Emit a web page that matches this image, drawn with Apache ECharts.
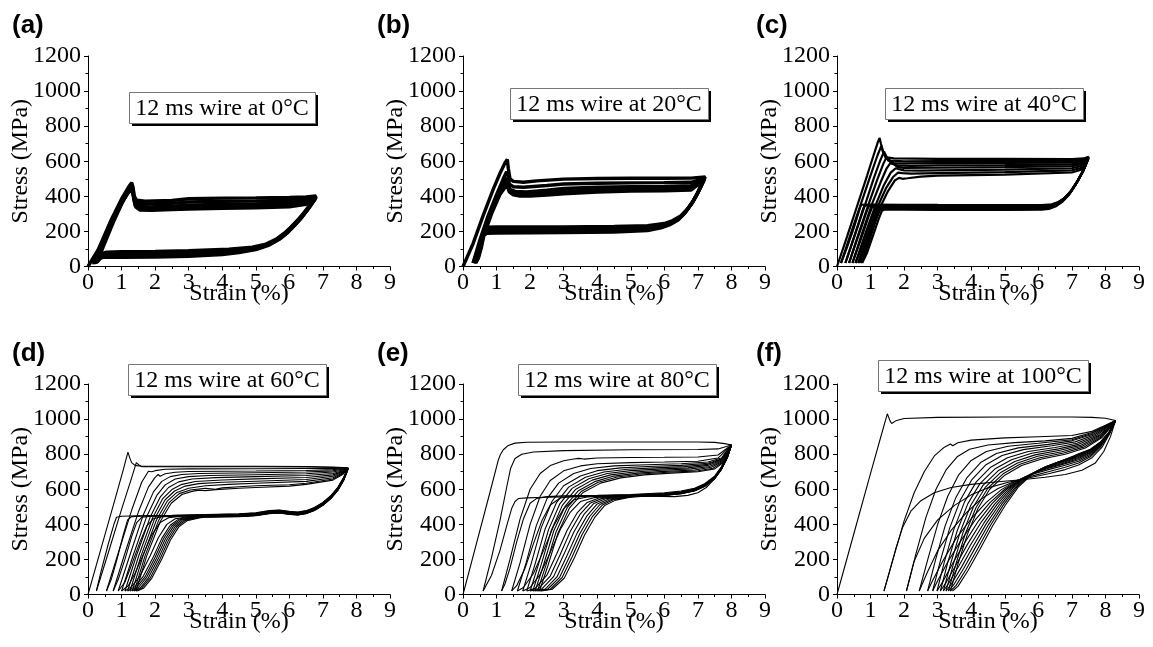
<!DOCTYPE html>
<html>
<head>
<meta charset="utf-8">
<title>12 ms wire - cyclic tension</title>
<script src="https://cdn.jsdelivr.net/npm/echarts@6/dist/echarts.min.js"></script>
<style>
html, body { margin: 0; padding: 0; background: #fff; }
#main { width: 1153px; height: 647px; }
</style>
</head>
<body>
<div id="main"></div>
<script>
// panel letters and test temperatures
var panelTags = ['(a)', '(b)', '(c)', '(d)', '(e)', '(f)'];
var temps = ['0°C', '20°C', '40°C', '60°C', '80°C', '100°C'];

// axis ranges (strain %, stress MPa)
var strainMin = 0, strainMax = 9, strainStep = 1;
var stressMin = 0, stressMax = 1200, stressStep = 200;

// each loop = one load/unload cycle, [strain, stress]
var loops0 = [
  [[0,0],[0.3,95],[0.7,270],[1.0,385],[1.2,450],[1.3,478],[1.34,455],[1.38,400],[1.45,378],[1.7,372],[2.5,376],[3,386],[4,390],[5,391],[6,393],[6.5,396],[6.8,402],[6.65,360],[6.45,310],[6.25,265],[6.05,225],[5.85,190],[5.6,155],[5.3,128],[4.9,110],[4.2,98],[3,90],[2,86],[1,84],[0.55,82],[0.42,75],[0.32,40],[0.25,22]],
  [[0.25,22],[0.45,110],[0.75,250],[1.0,355],[1.2,430],[1.3,465],[1.34,440],[1.38,385],[1.45,362],[1.7,356],[2.5,360],[3,368],[4,372],[5,373],[6,376],[6.5,384],[6.8,398],[6.62,350],[6.42,300],[6.22,255],[6.02,215],[5.82,180],[5.55,146],[5.25,120],[4.8,102],[4.1,90],[3,80],[2,76],[1,74],[0.55,73],[0.42,66],[0.3,35],[0.2,20]],
  [[0.2,20],[0.42,115],[0.7,245],[1.0,360],[1.2,425],[1.3,458],[1.34,425],[1.39,365],[1.5,345],[1.8,340],[2.5,344],[3,350],[4,355],[5,357],[6,362],[6.5,372],[6.8,394],[6.6,340],[6.4,290],[6.2,247],[6.0,208],[5.8,172],[5.5,138],[5.2,112],[4.7,94],[4,82],[3,72],[2,68],[1,66],[0.55,66],[0.42,60],[0.3,32],[0.18,20]],
  [[0.18,20],[0.4,115],[0.7,250],[1.0,362],[1.2,420],[1.3,448],[1.35,410],[1.4,350],[1.5,332],[1.8,328],[2.5,332],[3,338],[4,342],[5,345],[6,350],[6.5,362],[6.78,390],[6.58,332],[6.38,282],[6.18,240],[5.98,200],[5.75,162],[5.45,130],[5.1,104],[4.6,86],[4,74],[3,64],[2,60],[1,58],[0.5,58],[0.38,52],[0.28,30],[0.15,20]],
  [[0.15,20],[0.38,118],[0.68,255],[1.0,372],[1.2,425],[1.3,440],[1.35,400],[1.42,340],[1.55,322],[1.9,320],[2.5,324],[3,328],[4,332],[5,335],[6,340],[6.5,354],[6.78,386],[6.55,325],[6.35,275],[6.15,232],[5.95,193],[5.7,155],[5.4,122],[5.0,96],[4.5,80],[4,68],[3,58],[2,54],[1,52],[0.45,52],[0.35,46],[0.25,28],[0.12,20]]
];

var loops20 = [
  [[0,0],[0.3,130],[0.6,290],[0.9,440],[1.1,530],[1.25,590],[1.32,610],[1.35,560],[1.4,500],[1.5,485],[1.8,480],[2.2,488],[3,498],[4,502],[5,503],[6,503],[6.8,504],[7.22,510],[7.08,450],[6.9,385],[6.7,330],[6.5,290],[6.25,262],[6.0,245],[5.5,232],[4.5,228],[3,226],[2,226],[1,226],[0.7,224],[0.62,210],[0.5,130],[0.38,60],[0.3,20]],
  [[0.3,20],[0.5,150],[0.75,290],[1.0,410],[1.2,500],[1.3,540],[1.34,520],[1.38,470],[1.5,455],[1.8,452],[2.5,462],[3,470],[4,475],[5,477],[6,478],[6.8,480],[7.2,502],[7.05,440],[6.87,375],[6.67,322],[6.47,282],[6.22,255],[5.97,238],[5.5,224],[4.5,218],[3,216],[2,215],[1,214],[0.7,212],[0.62,198],[0.52,130],[0.42,60],[0.33,20]],
  [[0.33,20],[0.52,140],[0.78,290],[1.0,395],[1.2,475],[1.3,505],[1.35,470],[1.4,440],[1.55,428],[1.9,425],[2.5,435],[3,445],[4,452],[5,455],[6,457],[6.8,460],[7.18,496],[7.02,430],[6.85,368],[6.65,315],[6.45,276],[6.2,249],[5.95,232],[5.5,217],[4.5,210],[3,207],[2,206],[1,205],[0.7,203],[0.62,190],[0.53,120],[0.44,55],[0.35,20]],
  [[0.35,20],[0.55,150],[0.8,290],[1.05,400],[1.22,460],[1.3,478],[1.36,445],[1.45,420],[1.6,412],[2,412],[2.5,420],[3,428],[4,436],[5,440],[6,442],[6.8,446],[7.18,492],[7.0,420],[6.82,360],[6.62,308],[6.42,270],[6.18,243],[5.92,226],[5.5,211],[4.5,202],[3,199],[2,198],[1,197],[0.7,195],[0.62,182],[0.54,115],[0.45,50],[0.37,20]],
  [[0.37,20],[0.58,155],[0.85,300],[1.1,410],[1.25,450],[1.32,458],[1.38,425],[1.5,408],[1.7,402],[2,402],[2.5,408],[3,415],[4,425],[5,430],[6,432],[6.8,436],[7.15,488],[6.98,415],[6.8,355],[6.6,302],[6.4,264],[6.15,237],[5.9,220],[5.5,205],[4.5,196],[3,193],[2,192],[1,191],[0.7,189],[0.62,176],[0.55,110],[0.46,48],[0.38,20]]
];

var loops40 = [
  [[0,0],[0.3,170],[0.6,345],[0.9,520],[1.1,640],[1.22,710],[1.27,733],[1.31,700],[1.38,650],[1.48,622],[1.7,616],[3,614],[5,613],[7,612],[7.35,616],[7.5,626],[7.38,565],[7.2,495],[7.0,435],[6.8,393],[6.6,368],[6.4,355],[6.1,350],[5,350],[3,351],[2,352],[1,353],[0.72,352],[0.66,320],[0.5,220],[0.3,110],[0.12,20]],
  [[0.12,20],[0.4,180],[0.7,350],[1.0,520],[1.2,630],[1.32,688],[1.36,660],[1.45,620],[1.6,603],[2,600],[3,601],[5,601],[7,602],[7.35,608],[7.5,622],[7.37,560],[7.18,490],[6.98,430],[6.78,390],[6.58,364],[6.38,350],[6.1,346],[5,346],[3,347],[2,348],[1,348],[0.82,347],[0.76,318],[0.6,220],[0.4,105],[0.25,20]],
  [[0.25,20],[0.55,190],[0.85,360],[1.1,505],[1.28,600],[1.4,655],[1.44,640],[1.52,605],[1.7,590],[2,588],[3,589],[5,590],[7,592],[7.35,600],[7.5,618],[7.36,555],[7.16,486],[6.96,427],[6.76,386],[6.56,360],[6.36,346],[6.1,342],[5,342],[3,343],[2,344],[1,344],[0.94,343],[0.88,312],[0.7,210],[0.5,100],[0.36,20]],
  [[0.36,20],[0.65,190],[0.95,360],[1.2,495],[1.38,585],[1.48,625],[1.53,612],[1.62,588],[1.8,576],[2.2,574],[3,576],[5,578],[7,582],[7.35,592],[7.49,615],[7.35,550],[7.15,482],[6.95,424],[6.75,383],[6.55,357],[6.35,343],[6.1,339],[5,338],[3,339],[2,340],[1.1,340],[1.04,335],[0.95,290],[0.78,195],[0.6,95],[0.46,20]],
  [[0.46,20],[0.75,190],[1.05,360],[1.3,480],[1.48,560],[1.6,592],[1.68,585],[1.8,568],[2,562],[3,563],[5,566],[7,572],[7.35,585],[7.48,612],[7.34,546],[7.14,478],[6.94,420],[6.74,380],[6.54,354],[6.34,340],[6.1,336],[5,334],[3,335],[2,336],[1.2,336],[1.14,330],[1.05,285],[0.88,190],[0.7,90],[0.55,20]],
  [[0.55,20],[0.85,190],[1.15,350],[1.4,465],[1.6,535],[1.75,560],[1.85,555],[2,548],[2.5,546],[3,548],[5,552],[7,560],[7.35,576],[7.47,608],[7.33,542],[7.13,474],[6.93,416],[6.73,376],[6.53,350],[6.33,336],[6.1,332],[5,330],[3,331],[2,332],[1.28,332],[1.22,326],[1.12,280],[0.95,185],[0.78,85],[0.63,20]],
  [[0.63,20],[0.93,190],[1.22,345],[1.47,450],[1.67,510],[1.82,535],[1.95,532],[2.2,530],[3,532],[5,538],[7,548],[7.35,566],[7.46,604],[7.32,538],[7.12,470],[6.92,412],[6.72,372],[6.52,346],[6.32,332],[6.1,328],[5,326],[3,327],[2,328],[1.34,328],[1.28,322],[1.18,275],[1.02,182],[0.85,82],[0.7,20]],
  [[0.7,20],[1.0,190],[1.28,335],[1.52,430],[1.72,490],[1.85,505],[1.95,500],[2.1,503],[2.5,512],[3,518],[5,524],[7,536],[7.35,556],[7.45,600],[7.31,534],[7.11,466],[6.91,408],[6.71,368],[6.51,342],[6.31,328],[6.1,324],[5,322],[3,323],[2,324],[1.4,324],[1.34,318],[1.24,270],[1.08,180],[0.9,80],[0.75,20]]
];

var loops60 = [
  [[0,0],[0.4,270],[0.8,540],[1.05,710],[1.19,812],[1.24,782],[1.3,752],[1.4,736],[1.6,731],[3,731],[5,731],[6.5,730],[7.3,727],[7.6,724],[7.75,722],[7.62,668],[7.45,612],[7.25,566],[7.0,525],[6.75,496],[6.5,478],[6.25,470],[6.0,474],[5.7,482],[5.4,478],[5.0,466],[4.5,460],[3.5,456],[2.5,452],[1.5,449],[1.0,446],[0.85,440],[0.78,405],[0.6,285],[0.4,140],[0.25,20]],
  [[0.25,20],[0.6,235],[1.0,485],[1.3,665],[1.44,752],[1.47,757],[1.52,738],[1.6,729],[1.8,728],[3,728],[5,728],[6.5,727],[7.3,724],[7.6,722],[7.75,721],[7.62,666],[7.45,610],[7.25,564],[7.0,523],[6.75,494],[6.5,476],[6.25,468],[6.0,472],[5.7,480],[5.4,476],[5.0,464],[4.5,458],[3.5,454],[2.5,450],[1.6,447],[1.3,444],[1.18,425],[1.05,340],[0.85,190],[0.7,90],[0.55,20]],
  [[0.55,20],[0.9,235],[1.3,480],[1.6,640],[1.8,703],[1.85,712],[1.9,700],[2.0,706],[2.3,714],[3,716],[5,717],[6.5,718],[7.3,719],[7.6,720],[7.75,721],[7.62,664],[7.45,608],[7.25,562],[7.0,521],[6.75,492],[6.5,474],[6.25,466],[6.0,470],[5.7,478],[5.4,474],[5.0,462],[4.5,456],[3.5,452],[2.5,448],[1.9,446],[1.6,440],[1.45,410],[1.3,330],[1.1,200],[0.9,85],[0.75,20]],
  [[0.75,20],[1.1,235],[1.5,470],[1.8,612],[2.0,668],[2.09,684],[2.15,674],[2.3,688],[2.6,697],[3,701],[5,704],[6.5,707],[7.3,712],[7.6,717],[7.75,720],[7.62,662],[7.45,606],[7.25,560],[7.0,519],[6.75,490],[6.5,472],[6.25,464],[6.0,468],[5.7,476],[5.4,472],[5.0,460],[4.5,454],[3.5,450],[2.7,447],[2.2,444],[1.95,432],[1.75,390],[1.55,300],[1.3,170],[1.1,70],[0.9,20]],
  [[0.9,20],[1.25,225],[1.65,455],[1.95,585],[2.2,645],[2.45,672],[2.8,684],[3.3,690],[5,694],[6.5,698],[7.3,705],[7.6,714],[7.75,720],[7.62,660],[7.45,604],[7.25,558],[7.0,517],[6.75,488],[6.5,470],[6.25,462],[6.0,466],[5.7,474],[5.4,470],[5.0,458],[4.5,452],[3.5,449],[2.8,446],[2.4,438],[2.15,410],[1.9,340],[1.65,230],[1.4,120],[1.2,50],[1.0,20]],
  [[1.0,20],[1.35,225],[1.75,445],[2.05,565],[2.3,625],[2.6,658],[3,672],[3.6,678],[5,683],[6.5,688],[7.3,698],[7.6,710],[7.75,719],[7.62,658],[7.45,602],[7.25,556],[7.0,515],[6.75,486],[6.5,468],[6.25,460],[6.0,464],[5.7,472],[5.4,468],[5.0,456],[4.5,450],[3.5,447],[3.0,444],[2.6,432],[2.35,400],[2.1,325],[1.85,220],[1.55,105],[1.3,45],[1.1,20]],
  [[1.1,20],[1.45,225],[1.85,440],[2.15,555],[2.4,610],[2.7,642],[3.1,658],[3.8,666],[5,672],[6.5,678],[7.3,690],[7.6,706],[7.75,718],[7.62,656],[7.45,600],[7.25,554],[7.0,513],[6.75,484],[6.5,466],[6.25,458],[6.0,462],[5.7,470],[5.4,466],[5.0,454],[4.5,449],[3.5,446],[3.1,443],[2.7,430],[2.45,395],[2.2,320],[1.95,215],[1.65,105],[1.4,45],[1.18,20]],
  [[1.18,20],[1.52,225],[1.92,435],[2.22,545],[2.5,598],[2.8,628],[3.2,644],[4,653],[5,659],[6.5,667],[7.3,682],[7.6,702],[7.75,718],[7.62,655],[7.45,599],[7.25,553],[7.0,512],[6.75,483],[6.5,465],[6.25,457],[6.0,461],[5.7,469],[5.4,465],[5.0,453],[4.5,448],[3.5,445],[3.15,442],[2.75,428],[2.5,392],[2.25,318],[2.0,212],[1.7,100],[1.45,42],[1.25,20]],
  [[1.25,20],[1.58,220],[1.98,430],[2.3,540],[2.58,590],[2.9,618],[3.3,632],[4,640],[5,646],[6.5,656],[7.3,674],[7.6,698],[7.75,717],[7.62,654],[7.45,598],[7.25,552],[7.0,511],[6.75,482],[6.5,464],[6.25,456],[6.0,460],[5.7,468],[5.4,464],[5.0,452],[4.5,447],[3.5,444],[3.2,441],[2.8,426],[2.55,390],[2.3,315],[2.05,210],[1.75,98],[1.5,40],[1.32,20]],
  [[1.32,20],[1.64,220],[2.04,425],[2.36,532],[2.65,582],[3.0,606],[3.5,620],[4.2,628],[5,634],[6.5,645],[7.3,666],[7.6,694],[7.75,716],[7.62,653],[7.45,597],[7.25,551],[7.0,510],[6.75,481],[6.5,463],[6.25,455],[6.0,459],[5.7,467],[5.4,463],[5.0,451],[4.5,446],[3.5,443],[3.25,440],[2.85,424],[2.6,388],[2.35,312],[2.1,206],[1.8,95],[1.56,38],[1.38,20]],
  [[1.38,20],[1.7,220],[2.1,420],[2.42,525],[2.72,575],[3.05,596],[3.5,606],[3.8,600],[4.0,608],[4.5,614],[5,620],[6,626],[6.5,634],[7.3,658],[7.6,690],[7.75,715],[7.62,652],[7.45,596],[7.25,550],[7.0,509],[6.75,480],[6.5,462],[6.25,454],[6.0,458],[5.7,466],[5.4,462],[5.0,450],[4.5,445],[3.5,442],[3.3,439],[2.9,422],[2.65,386],[2.4,310],[2.15,204],[1.85,93],[1.6,36],[1.43,20]],
  [[1.43,20],[1.75,220],[2.15,415],[2.48,520],[2.8,570],[3.1,588],[3.3,595],[3.5,592],[3.8,598],[4.5,606],[5,610],[6,618],[6.5,628],[7.3,652],[7.6,686],[7.75,714],[7.62,651],[7.45,595],[7.25,549],[7.0,508],[6.75,479],[6.5,461],[6.25,453],[6.0,457],[5.7,465],[5.4,461],[5.0,449],[4.5,444],[3.5,441],[3.35,438],[2.95,420],[2.7,384],[2.45,308],[2.2,202],[1.9,92],[1.65,35],[1.47,20]]
];

var loops80 = [
  [[0,0],[0.4,290],[0.8,580],[1.05,765],[1.12,800],[1.2,825],[1.35,850],[1.55,863],[1.9,868],[3,869],[5,869],[7,869],[7.5,867],[7.8,860],[8.0,852],[7.88,800],[7.72,730],[7.5,660],[7.25,610],[7.0,580],[6.7,565],[6.3,558],[5.5,560],[4.5,562],[3.5,558],[2.5,554],[1.9,551],[1.65,547],[1.55,530],[1.45,490],[1.3,390],[1.1,250],[0.85,110],[0.6,20]],
  [[0.6,20],[0.85,210],[1.1,420],[1.3,610],[1.42,720],[1.55,775],[1.75,800],[2.1,812],[3,820],[5,825],[7,827],[7.6,830],[8.0,852],[7.88,795],[7.7,728],[7.5,675],[7.2,632],[6.9,606],[6.5,590],[6,580],[5,570],[4,565],[3,562],[2.5,558],[2.2,548],[2.0,520],[1.8,430],[1.6,300],[1.4,150],[1.25,60],[1.15,20]],
  [[1.15,20],[1.4,200],[1.7,430],[2.0,600],[2.3,690],[2.6,735],[3.0,762],[3.3,772],[3.45,776],[3.5,765],[3.6,772],[4,778],[5,781],[6,782],[7,784],[7.6,795],[8.0,852],[7.88,792],[7.7,724],[7.5,672],[7.2,628],[6.9,602],[6.5,586],[6,576],[5,568],[4,563],[3.3,560],[2.9,550],[2.6,510],[2.35,420],[2.1,290],[1.85,150],[1.6,50],[1.45,20]],
  [[1.45,20],[1.7,180],[2.0,400],[2.3,560],[2.6,650],[3.0,705],[3.5,733],[4,745],[5,752],[6,755],[7,760],[7.6,778],[8.0,852],[7.88,790],[7.7,722],[7.5,670],[7.2,626],[6.9,600],[6.5,584],[6,574],[5,566],[4.2,561],[3.7,556],[3.3,540],[3.0,490],[2.7,390],[2.4,250],[2.1,120],[1.8,40],[1.62,20]],
  [[1.62,20],[1.88,180],[2.18,390],[2.5,545],[2.85,635],[3.3,690],[3.8,718],[4.5,733],[5.5,740],[6.5,745],[7.3,755],[7.7,778],[8.0,852],[7.88,788],[7.7,720],[7.5,668],[7.2,624],[6.9,598],[6.5,582],[6,572],[5,564],[4.4,560],[3.9,552],[3.5,530],[3.2,470],[2.9,370],[2.6,240],[2.3,115],[2.0,40],[1.78,20]],
  [[1.78,20],[2.03,175],[2.33,380],[2.65,530],[3.0,620],[3.5,676],[4,706],[4.7,722],[5.5,730],[6.5,736],[7.3,748],[7.7,773],[8.0,852],[7.88,786],[7.7,718],[7.5,666],[7.2,622],[6.9,596],[6.5,580],[6,570],[5,563],[4.5,559],[4.05,550],[3.7,525],[3.4,465],[3.1,365],[2.8,235],[2.5,110],[2.15,35],[1.9,20]],
  [[1.9,20],[2.15,175],[2.45,375],[2.78,522],[3.15,612],[3.65,668],[4.2,698],[4.9,714],[5.7,722],[6.6,729],[7.3,742],[7.7,769],[8.0,852],[7.88,785],[7.7,717],[7.5,665],[7.2,621],[6.9,595],[6.5,579],[6,569],[5,562],[4.6,558],[4.15,548],[3.8,522],[3.5,460],[3.2,360],[2.9,230],[2.6,105],[2.25,33],[2.0,20]],
  [[2.0,20],[2.25,172],[2.55,370],[2.88,515],[3.25,605],[3.75,660],[4.3,690],[5.0,706],[5.8,715],[6.7,722],[7.3,736],[7.7,765],[8.0,852],[7.88,784],[7.7,716],[7.5,664],[7.2,620],[6.9,594],[6.5,578],[6,568],[5,561],[4.7,557],[4.25,546],[3.9,519],[3.6,455],[3.3,355],[3.0,226],[2.7,102],[2.35,32],[2.08,20]],
  [[2.08,20],[2.33,170],[2.63,365],[2.96,508],[3.35,598],[3.85,652],[4.4,682],[5.1,698],[5.9,708],[6.8,716],[7.35,730],[7.72,762],[8.0,852],[7.88,783],[7.7,715],[7.5,663],[7.2,619],[6.9,593],[6.5,577],[6,567],[5,560],[4.8,556],[4.35,544],[4.0,516],[3.7,450],[3.4,350],[3.1,222],[2.8,100],[2.45,31],[2.15,20]],
  [[2.15,20],[2.4,168],[2.7,360],[3.04,502],[3.44,592],[3.95,645],[4.5,675],[5.2,692],[6.0,702],[6.9,710],[7.4,725],[7.74,760],[8.0,852],[7.88,782],[7.7,714],[7.5,662],[7.2,618],[6.9,592],[6.5,576],[6,566],[5,559],[4.85,555],[4.42,542],[4.08,513],[3.78,446],[3.48,346],[3.18,218],[2.88,98],[2.52,30],[2.22,20]],
  [[2.22,20],[2.47,166],[2.77,355],[3.11,497],[3.52,587],[4.03,640],[4.6,670],[5.3,687],[6.1,697],[7.0,705],[7.45,720],[7.76,757],[8.0,852],[7.88,781],[7.7,713],[7.5,661],[7.2,617],[6.9,591],[6.5,575],[6,565],[5.1,558],[4.9,554],[4.48,540],[4.15,510],[3.85,442],[3.55,342],[3.25,214],[2.95,96],[2.6,30],[2.28,20]],
  [[2.28,20],[2.53,164],[2.83,350],[3.17,492],[3.58,582],[4.1,635],[4.7,665],[5.4,682],[6.2,692],[7.0,700],[7.5,716],[7.78,755],[8.0,852],[7.88,780],[7.7,712],[7.5,660],[7.2,616],[6.9,590],[6.5,574],[6,564],[5.15,557],[4.95,553],[4.55,538],[4.22,507],[3.92,438],[3.62,338],[3.32,210],[3.02,94],[2.66,30],[2.33,20]]
];

var loops100 = [
  [[0,0],[0.5,345],[1.0,690],[1.3,895],[1.44,990],[1.5,1030],[1.53,1040],[1.58,990],[1.63,975],[1.75,990],[2.0,1003],[3,1010],[5,1012],[7,1012],[7.6,1010],[8.0,1005],[8.3,992],[8.15,900],[7.95,815],[7.7,750],[7.3,708],[6.8,684],[6.2,668],[5.5,654],[4.8,643],[4.0,628],[3.4,610],[2.9,580],[2.5,535],[2.2,475],[1.95,380],[1.75,260],[1.55,120],[1.4,20]],
  [[1.4,20],[1.7,220],[2.0,420],[2.3,580],[2.6,700],[2.9,790],[3.2,840],[3.38,858],[3.45,848],[3.6,865],[4,880],[5,893],[6,899],[7,906],[7.6,930],[8.0,965],[8.3,992],[8.12,915],[7.9,840],[7.6,780],[7.2,738],[6.8,712],[6.3,688],[5.7,664],[5.1,640],[4.5,608],[4.0,568],[3.5,508],[3.0,425],[2.6,320],[2.3,190],[2.07,20]],
  [[2.07,20],[2.35,230],[2.65,440],[2.95,600],[3.25,710],[3.58,785],[3.95,828],[4.5,852],[5.3,866],[6.2,876],[7,890],[7.6,924],[8.3,991],[8.1,910],[7.85,840],[7.55,785],[7.2,750],[6.8,725],[6.3,700],[5.8,675],[5.3,645],[4.8,604],[4.3,545],[3.85,465],[3.4,365],[3.0,250],[2.7,130],[2.45,20]],
  [[2.45,20],[2.72,210],[3.0,400],[3.3,560],[3.62,680],[4.0,764],[4.45,815],[5.1,845],[6,862],[7,882],[7.6,918],[8.3,990],[8.1,912],[7.85,845],[7.55,793],[7.2,760],[6.8,737],[6.3,712],[5.8,684],[5.35,648],[4.9,598],[4.45,525],[4.0,432],[3.55,320],[3.15,190],[2.85,80],[2.7,20]],
  [[2.7,20],[2.94,200],[3.22,390],[3.54,552],[3.88,668],[4.28,752],[4.75,804],[5.4,836],[6.3,856],[7,876],[7.65,915],[8.3,990],[8.1,914],[7.85,850],[7.55,800],[7.2,768],[6.8,746],[6.35,722],[5.9,694],[5.45,655],[5.0,600],[4.55,522],[4.12,425],[3.7,310],[3.3,185],[3.0,78],[2.85,20]],
  [[2.85,20],[3.08,192],[3.36,380],[3.68,540],[4.02,655],[4.44,740],[4.92,792],[5.55,826],[6.4,848],[7.1,870],[7.7,912],[8.3,989],[8.1,916],[7.85,854],[7.55,806],[7.2,775],[6.85,754],[6.4,730],[5.95,701],[5.5,660],[5.05,600],[4.62,518],[4.22,420],[3.82,300],[3.45,178],[3.15,72],[2.98,20]],
  [[2.98,20],[3.2,186],[3.48,370],[3.8,528],[4.15,642],[4.58,726],[5.08,780],[5.7,815],[6.5,838],[7.15,862],[7.75,909],[8.3,989],[8.1,918],[7.85,858],[7.55,811],[7.2,781],[6.9,762],[6.45,737],[6.0,707],[5.55,664],[5.12,602],[4.7,515],[4.3,413],[3.9,290],[3.55,170],[3.25,68],[3.08,20]],
  [[3.08,20],[3.3,182],[3.58,362],[3.9,518],[4.26,632],[4.7,715],[5.2,768],[5.8,805],[6.6,830],[7.2,856],[7.8,906],[8.3,988],[8.1,920],[7.85,862],[7.55,816],[7.2,787],[6.95,770],[6.5,744],[6.05,713],[5.6,668],[5.18,604],[4.77,514],[4.38,408],[3.98,282],[3.63,162],[3.33,64],[3.17,20]],
  [[3.17,20],[3.39,178],[3.67,356],[3.99,510],[4.35,622],[4.8,705],[5.3,758],[5.9,796],[6.65,822],[7.25,850],[7.82,903],[8.3,988],[8.1,921],[7.85,864],[7.55,819],[7.2,791],[6.98,775],[6.55,750],[6.1,718],[5.65,672],[5.24,606],[4.84,513],[4.45,404],[4.06,276],[3.71,156],[3.41,60],[3.25,20]],
  [[3.25,20],[3.47,175],[3.75,350],[4.07,502],[4.43,614],[4.88,696],[5.38,750],[5.98,788],[6.7,814],[7.3,845],[7.85,900],[8.3,987],[8.1,922],[7.85,866],[7.55,822],[7.2,795],[7.0,780],[6.6,755],[6.15,723],[5.7,676],[5.3,608],[4.9,512],[4.52,400],[4.13,270],[3.78,150],[3.48,56],[3.32,20]],
  [[3.32,20],[3.54,172],[3.82,345],[4.14,495],[4.5,607],[4.95,688],[5.45,742],[6.05,780],[6.75,807],[7.35,840],[7.88,898],[8.3,987],[8.1,923],[7.85,868],[7.55,825],[7.2,799],[7.02,785],[6.65,759],[6.2,727],[5.75,679],[5.35,610],[4.96,511],[4.58,396],[4.2,264],[3.85,144],[3.55,52],[3.38,20]],
  [[3.38,20],[3.6,170],[3.88,340],[4.2,490],[4.55,600],[5.0,680],[5.5,735],[6.1,772],[6.8,800],[7.4,835],[7.9,895],[8.3,986],[8.1,924],[7.85,870],[7.55,828],[7.2,803],[7.05,790],[6.7,763],[6.25,731],[5.8,682],[5.4,612],[5.02,510],[4.64,392],[4.26,258],[3.91,138],[3.61,48],[3.44,20]]
];

var allLoops = [loops0, loops20, loops40, loops60, loops80, loops100];
var lineW = [3.4, 3.4, 2.2, 1.1, 1.1, 1.1];

// layout (px)
var colX = [88, 463, 837];
var rowY = [56, 384];
var plotW = 302, plotH = 210.5;
var tagX = [12, 377, 756], tagY = [13, 341];
var boxX = [129, 510, 885, 128, 518, 878];
var boxY = [92, 88, 88, 364, 364, 360];
var boxW = [186, 198, 198, 198, 198, 210];
var boxH = 31;

var serif = 'Liberation Serif, Times New Roman, serif';

var grid = [], xAxis = [], yAxis = [], series = [], title = [], graphic = [];
for (var i = 0; i < 6; i++) {
  var c = i % 3, r = Math.floor(i / 3);
  grid.push({ left: colX[c], top: rowY[r], width: plotW, height: plotH });

  xAxis.push({
    gridIndex: i, type: 'value',
    min: strainMin, max: strainMax, interval: strainStep,
    name: 'Strain (%)', nameLocation: 'middle', nameGap: 15, nameMoveOverlap: false,
    nameTextStyle: { fontFamily: serif, fontSize: 24, color: '#000' },
    axisLine: { onZero: false, lineStyle: { color: '#000', width: 1 } },
    axisTick: { length: 4, lineStyle: { color: '#000' } },
    minorTick: { show: true, splitNumber: 2, length: 2.5, lineStyle: { color: '#000' } },
    splitLine: { show: false },
    axisLabel: { fontFamily: serif, fontSize: 24, color: '#000', margin: 4, formatter: function (v) { return String(v); } }
  });

  yAxis.push({
    gridIndex: i, type: 'value',
    min: stressMin, max: stressMax, interval: stressStep,
    name: 'Stress (MPa)', nameLocation: 'middle', nameGap: 55, nameMoveOverlap: false,
    nameTextStyle: { fontFamily: serif, fontSize: 24, color: '#000' },
    axisLine: { show: true, lineStyle: { color: '#000', width: 1 } },
    axisTick: { length: 4, lineStyle: { color: '#000' } },
    minorTick: { show: true, splitNumber: 2, length: 2.5, lineStyle: { color: '#000' } },
    splitLine: { show: false },
    axisLabel: { fontFamily: serif, fontSize: 24, color: '#000', margin: 7, formatter: function (v) { return String(v); } }
  });

  // panel letter
  title.push({
    text: panelTags[i], left: tagX[c], top: tagY[r], padding: 0,
    textStyle: { fontFamily: 'Liberation Sans, Arial, sans-serif', fontWeight: 'bold', fontSize: 26, color: '#000' }
  });

  // boxed caption with solid drop shadow
  graphic.push({ type: 'rect', left: boxX[i] + 3, top: boxY[i] + 3, z: 10, silent: true,
    shape: { width: boxW[i], height: boxH }, style: { fill: '#000' } });
  graphic.push({ type: 'rect', left: boxX[i], top: boxY[i], z: 11, silent: true,
    shape: { width: boxW[i], height: boxH }, style: { fill: '#fff', stroke: '#777', lineWidth: 1 } });
  graphic.push({ type: 'text', x: boxX[i] + boxW[i] / 2, y: boxY[i] + boxH / 2 + 1, z: 12, silent: true,
    style: { text: '12 ms wire at ' + temps[i], font: '24px ' + serif, fill: '#000',
      align: 'center', verticalAlign: 'middle', textAlign: 'center', textVerticalAlign: 'middle' } });

  var loops = allLoops[i];
  for (var k = 0; k < loops.length; k++) {
    series.push({
      type: 'line', xAxisIndex: i, yAxisIndex: i,
      data: loops[k], symbol: 'none', silent: true,
      lineStyle: { color: '#000', width: lineW[i] }
    });
  }
}

var myChart = echarts.init(document.getElementById('main'));
myChart.setOption({
  animation: false,
  backgroundColor: '#fff',
  title: title,
  graphic: graphic,
  grid: grid,
  xAxis: xAxis,
  yAxis: yAxis,
  series: series
});
</script>
</body>
</html>
